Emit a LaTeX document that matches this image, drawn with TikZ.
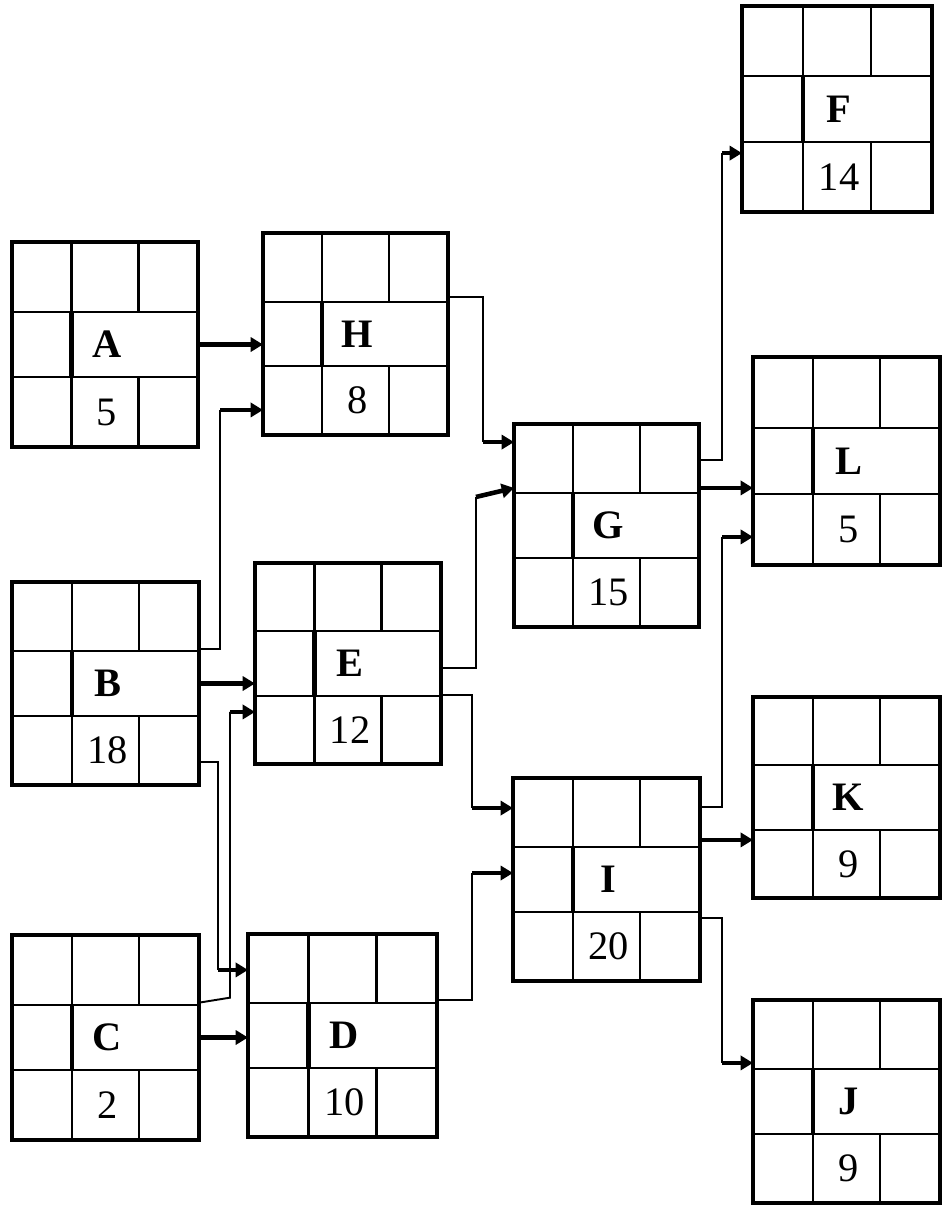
\documentclass[tikz,border=0pt]{standalone}
\usepackage{fontspec}
\setmainfont{Liberation Serif}
\usetikzlibrary{fit,calc,arrows.meta}
\newcommand\actbox[7]{%
  \pgfmathsetmacro\cA{#2+0.32*(#4-#2)}%
  \pgfmathsetmacro\cB{#2+0.68*(#4-#2)}%
  \pgfmathsetmacro\rA{#3+0.34*(#5-#3)}%
  \pgfmathsetmacro\rB{#3+0.66*(#5-#3)}%
  \pgfmathsetmacro\cM{#2+0.5*(#4-#2)+2}%
  \pgfmathsetmacro\yL{(\rA+\rB)/2}%
  \pgfmathsetmacro\yN{(\rB+#5)/2}%
  \draw[innerln] (#2,\rA) -- (#4,\rA) (#2,\rB) -- (#4,\rB)
    (\cA,#3) -- (\cA,\rA) (\cB,#3) -- (\cB,\rA)
    (\cA,\rB) -- (\cA,#5) (\cB,\rB) -- (\cB,#5);
  \draw[midbar] (\cA,\rA) -- (\cA,\rB);
  \node[boxst, fit={(#2,#3) (#4,#5)}] (#1) {};
  \node[lett] (#1l) at (\cM,\yL) {#6};
  \node[numt] (#1n) at (\cM,\yN) {#7};
}
\begin{document}
\begin{tikzpicture}[x=0.02cm,y=-0.02cm,
  boxst/.style={draw, line width=2.6pt, inner sep=0pt, outer sep=0pt},
  innerln/.style={line width=1.3pt},
  midbar/.style={line width=2.6pt},
  lett/.style={font=\fontsize{23}{26}\selectfont\bfseries, inner sep=0pt},
  numt/.style={font=\fontsize{23}{26}\selectfont, inner sep=0pt},
  conn/.style={line width=1.1pt},
  tharrow/.style={line width=2.6pt, -{Triangle[length=7pt,width=8pt]}},
]
\useasboundingbox (0,0) rectangle (943,1205);
\fill[white] (0,0) rectangle (943,1205);

\actbox{A}{12}{242}{198}{447}{A}{5}
\actbox{H}{263}{233}{448}{435}{H}{8}
\actbox{B}{12}{582}{199}{785}{B}{18}
\actbox{E}{255}{563}{441}{764}{E}{12}
\actbox{C}{12}{935}{199}{1140}{C}{2}
\actbox{D}{248}{934}{437}{1137}{D}{10}
\actbox{G}{514}{424}{699}{627}{G}{15}
\actbox{I}{513}{778}{700}{981}{I}{20}
\actbox{F}{742}{6}{932}{212}{F}{14}
\actbox{L}{753}{357}{940}{565}{L}{5}
\actbox{K}{753}{697}{940}{898}{K}{9}
\actbox{J}{753}{1000}{940}{1203}{J}{9}

% straight thick connectors
\draw[tharrow] (A.east) -- (A.east -| H.west);
\draw[tharrow] (B.east) -- (B.east -| E.west);
\draw[tharrow] (C.east) -- (C.east -| D.west);
\coordinate (sGL) at ($(G.north east)!0.315!(G.south east)$);
\draw[tharrow] (sGL) -- (sGL -| L.west);
\coordinate (sIK) at ($(I.north east)!0.305!(I.south east)$);
\draw[tharrow] (sIK) -- (sIK -| K.west);

% B -> H
\coordinate (sBH) at ($(B.north east)!0.33!(B.south east)$);
\coordinate (tBH) at ($(H.north west)!0.876!(H.south west)$);
\draw[conn] (sBH) -- ++(21,0) coordinate (kBH) -- (kBH |- tBH);
\draw[tharrow] (kBH |- tBH) -- (tBH);

% B -> D
\coordinate (sBD) at ($(B.north east)!0.887!(B.south east)$);
\coordinate (tBD) at ($(D.north west)!0.177!(D.south west)$);
\draw[conn] (sBD) -- ++(19,0) coordinate (kBD) -- (kBD |- tBD);
\draw[tharrow] (kBD |- tBD) -- (tBD);

% C -> E
\coordinate (sCE) at ($(C.north east)!0.33!(C.south east)$);
\coordinate (tCE) at ($(E.north west)!0.741!(E.south west)$);
\draw[conn] (sCE) -- ++(31,-5) coordinate (kCE) -- (kCE |- tCE);
\draw[tharrow] (kCE |- tCE) -- (tCE);

% H -> G
\coordinate (sHG) at ($(H.north east)!0.317!(H.south east)$);
\coordinate (tHG) at ($(G.north west)!0.089!(G.south west)$);
\draw[conn] (sHG) -- ++(35,0) coordinate (kHG) -- (kHG |- tHG);
\draw[tharrow] (kHG |- tHG) -- (tHG);

% E -> G
\coordinate (sEG) at ($(E.north east)!0.522!(E.south east)$);
\coordinate (tEG) at ($(G.north west)!0.315!(G.south west)$);
\draw[conn] (sEG) -- ++(35,0) coordinate (kEG) -- ($(kEG |- tEG)+(0,9)$) coordinate (kEG2);
\draw[tharrow] (kEG2) -- (tEG);

% E -> I
\coordinate (sEI) at ($(E.north east)!0.657!(E.south east)$);
\coordinate (tEI) at ($(I.north west)!0.148!(I.south west)$);
\draw[conn] (sEI) -- ++(31,0) coordinate (kEI) -- (kEI |- tEI);
\draw[tharrow] (kEI |- tEI) -- (tEI);

% D -> I
\coordinate (sDI) at ($(D.north east)!0.325!(D.south east)$);
\coordinate (tDI) at ($(I.north west)!0.468!(I.south west)$);
\draw[conn] (sDI) -- ++(35,0) coordinate (kDI) -- (kDI |- tDI);
\draw[tharrow] (kDI |- tDI) -- (tDI);

% G -> F
\coordinate (sGF) at ($(G.north east)!0.177!(G.south east)$);
\coordinate (tGF) at ($(F.north west)!0.714!(F.south west)$);
\draw[conn] (sGF) -- ++(23,0) coordinate (kGF) -- (kGF |- tGF);
\draw[tharrow] (kGF |- tGF) -- (tGF);

% I -> L
\coordinate (sIL) at ($(I.north east)!0.143!(I.south east)$);
\coordinate (tIL) at ($(L.north west)!0.865!(L.south west)$);
\draw[conn] (sIL) -- ++(22,0) coordinate (kIL) -- (kIL |- tIL);
\draw[tharrow] (kIL |- tIL) -- (tIL);

% I -> J
\coordinate (sIJ) at ($(I.north east)!0.69!(I.south east)$);
\coordinate (tIJ) at ($(J.north west)!0.31!(J.south west)$);
\draw[conn] (sIJ) -- ++(22,0) coordinate (kIJ) -- (kIJ |- tIJ);
\draw[tharrow] (kIJ |- tIJ) -- (tIJ);
\end{tikzpicture}
\end{document}
